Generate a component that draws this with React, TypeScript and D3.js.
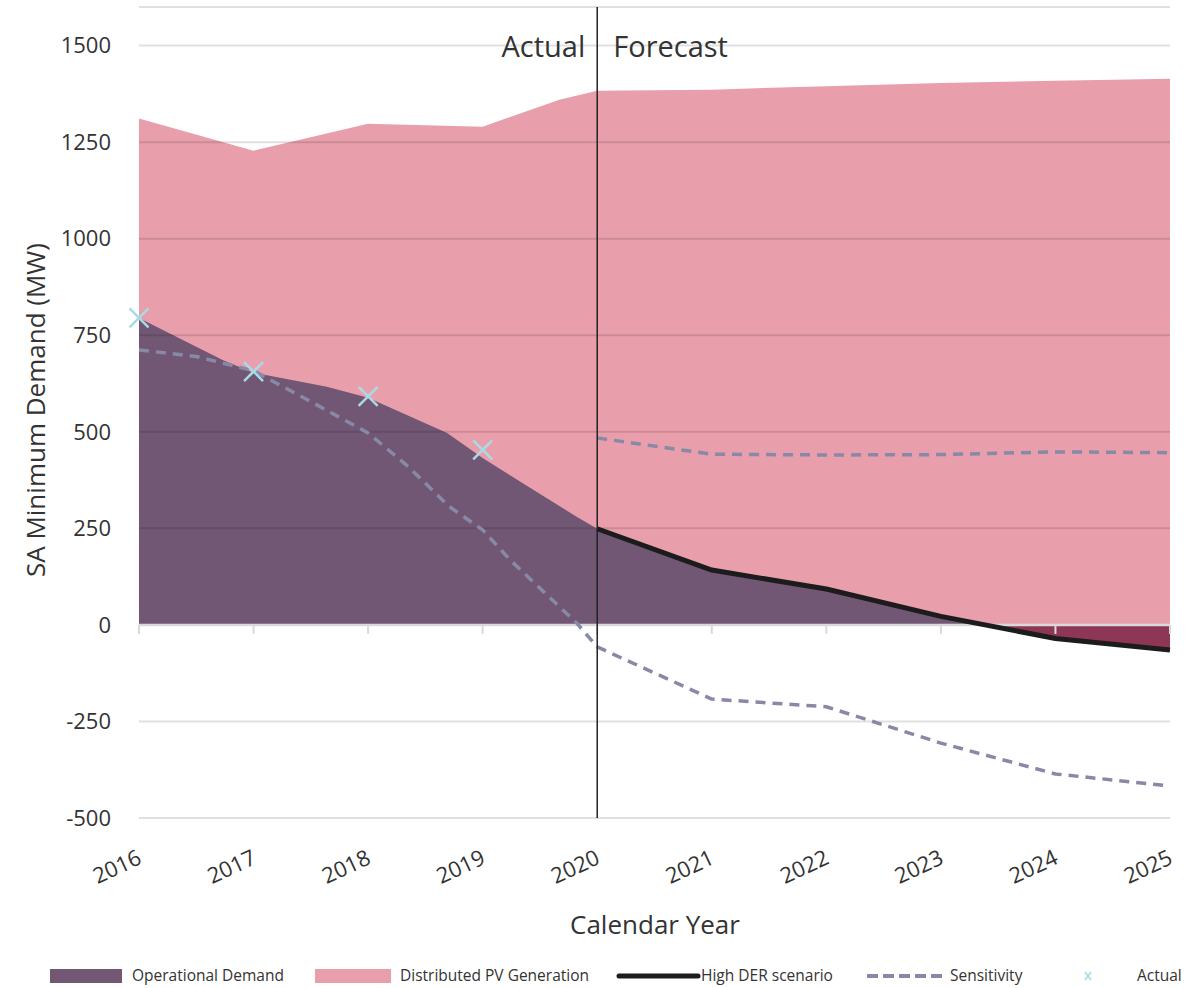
import React from "react";
import * as d3 from "d3";

// ---- Data ----
const demandYears = [2016, 2016.73, 2017, 2017.64, 2018, 2018.69, 2019, 2019.82, 2020];
const demandValues = [795, 686, 653, 617, 588, 497, 432, 280, 249];

const highDerYears = [2020, 2021, 2022, 2023, 2024, 2025];
const highDerValues = [249, 142, 93, 22, -35, -65];

// top of the stacked area (operational demand + distributed PV)
const pvTopYears = [2016, 2017, 2018, 2019, 2019.67, 2020, 2021, 2022, 2023, 2024, 2025];
const pvTopValues = [1311, 1228, 1298, 1290, 1360, 1383, 1386, 1395, 1403, 1409, 1414];

const sensLowYears = [2016, 2016.5, 2017, 2017.47, 2018, 2018.35, 2018.71, 2019, 2019.24, 2019.82, 2020, 2021, 2022, 2023, 2024, 2025];
const sensLowValues = [712, 695, 658, 583, 497, 410, 306, 246, 168, 5, -57, -192, -212, -306, -386, -417];

const sensHighYears = [2020, 2021, 2022, 2023, 2024, 2025];
const sensHighValues = [484, 442, 440, 441, 448, 446];

const actualYears = [2016, 2017, 2018, 2019];
const actualValues = [795, 656, 592, 453];

const tickYears = [2016, 2017, 2018, 2019, 2020, 2021, 2022, 2023, 2024, 2025];
const yTicks = [-500, -250, 0, 250, 500, 750, 1000, 1250, 1500];

const legendItems = ["Operational Demand", "Distributed PV Generation", "High DER scenario", "Sensitivity", "Actual"];

// ---- Styles ----
const C = {
  purple: "#725775",
  pink: "#e89fab",
  darkRed: "#8e3656",
  black: "#1c1c1c",
  dash: "#8789a6",
  cross: "#a9dbe6",
  grid: "rgba(0,0,0,0.12)",
  text: "#333333",
};
const FONT = "'Open Sans', 'Noto Sans', sans-serif";

export default function App() {
  const W = 1202;
  const H = 988;
  const x = d3.scaleLinear().domain([2016, 2025]).range([139, 1170]);
  const y = d3.scaleLinear().domain([-500, 1600]).range([818, 7]);

  type P = [number, number];
  const demandPts: P[] = [
    ...demandYears.map((yr, i) => [yr, demandValues[i]] as P),
    ...highDerYears.slice(1).map((yr, i) => [yr, highDerValues[i + 1]] as P),
  ];
  const pvPts: P[] = pvTopYears.map((yr, i) => [yr, pvTopValues[i]] as P);

  const areaPos = d3
    .area<P>()
    .x((d) => x(d[0]))
    .y0(y(0))
    .y1((d) => y(Math.max(0, d[1])));
  const areaNeg = d3
    .area<P>()
    .x((d) => x(d[0]))
    .y0(y(0))
    .y1((d) => y(Math.min(0, d[1])));

  const line = d3
    .line<P>()
    .x((d) => x(d[0]))
    .y((d) => y(d[1]));

  const highPts: P[] = highDerYears.map((yr, i) => [yr, highDerValues[i]] as P);
  const sensLowPts: P[] = sensLowYears.map((yr, i) => [yr, sensLowValues[i]] as P);
  const sensHighPts: P[] = sensHighYears.map((yr, i) => [yr, sensHighValues[i]] as P);

  // add zero-crossing point to demand for the negative fill
  const demandWithCross: P[] = [];
  demandPts.forEach((p, i) => {
    if (i > 0) {
      const q = demandPts[i - 1];
      if ((q[1] > 0 && p[1] < 0) || (q[1] < 0 && p[1] > 0)) {
        const t = q[1] / (q[1] - p[1]);
        demandWithCross.push([q[0] + t * (p[0] - q[0]), 0]);
      }
    }
    demandWithCross.push(p);
  });

  const crossSize = 9.5;
  const xr = x.range();

  const legendY = 976;
  const legX = [50, 315, 619, 867, 1088];
  const legTextX = [132, 400, 701, 950, 1137];

  return (
    <svg
      width={W}
      height={H}
      style={{ position: "absolute", left: 0, top: 0, background: "#fff" }}
      fontFamily={FONT}
    >
      <rect x={0} y={0} width={W} height={H} fill="#fff" />

      {/* areas */}
      <path d={areaPos(pvPts) || ""} fill={C.pink} />
      <path d={areaPos(demandWithCross) || ""} fill={C.purple} />
      <path d={areaNeg(demandWithCross) || ""} fill={C.darkRed} />

      {/* gridlines */}
      {[...yTicks.filter((v) => v !== 0), 1600].map((v) => (
        <line key={v} x1={xr[0]} x2={xr[1]} y1={y(v)} y2={y(v)} stroke={C.grid} strokeWidth={2} />
      ))}
      {/* zero axis with ticks */}
      <line x1={xr[0]} x2={xr[1]} y1={y(0)} y2={y(0)} stroke="#d9d9d9" strokeWidth={2.5} />
      {tickYears.map((t) => (
        <line key={t} x1={x(t)} x2={x(t)} y1={y(0)} y2={y(0) + 9} stroke="#d9d9d9" strokeWidth={2} />
      ))}

      {/* sensitivity lines */}
      <path d={line(sensLowPts) || ""} fill="none" stroke={C.dash} strokeWidth={3.5} strokeDasharray="10 7" strokeLinejoin="round" />
      <path d={line(sensHighPts) || ""} fill="none" stroke={C.dash} strokeWidth={3.5} strokeDasharray="10 7" strokeLinejoin="round" />

      {/* high DER line */}
      <path d={line(highPts) || ""} fill="none" stroke={C.black} strokeWidth={5} strokeLinejoin="round" />

      {/* actual markers */}
      {actualYears.map((yr, i) => {
        const cx = x(yr);
        const cy = y(actualValues[i]);
        return (
          <g key={yr} stroke={C.cross} strokeWidth={2.5}>
            <line x1={cx - crossSize} y1={cy - crossSize} x2={cx + crossSize} y2={cy + crossSize} />
            <line x1={cx - crossSize} y1={cy + crossSize} x2={cx + crossSize} y2={cy - crossSize} />
          </g>
        );
      })}

      {/* actual/forecast divider */}
      <line x1={x(2020)} x2={x(2020)} y1={y(1600)} y2={y(-500)} stroke="#222" strokeWidth={1.5} />
      <text x={x(2020) - 12} y={57} textAnchor="end" fontSize={29} fill={C.text}>
        Actual
      </text>
      <text x={x(2020) + 16} y={57} textAnchor="start" fontSize={29} fill={C.text}>
        Forecast
      </text>

      {/* y tick labels */}
      {yTicks.map((v) => (
        <text key={v} x={111} y={y(v)} dy="0.35em" textAnchor="end" fontSize={22} fill={C.text}>
          {v}
        </text>
      ))}

      {/* x tick labels */}
      {tickYears.map((t) => (
        <text
          key={t}
          transform={`translate(${x(t) + 4},${863}) rotate(-25)`}
          textAnchor="end"
          fontSize={22}
          fill={C.text}
        >
          {t}
        </text>
      ))}

      {/* axis titles */}
      <text
        transform={`translate(45,410) rotate(-90)`}
        textAnchor="middle"
        fontSize={26}
        fill={C.text}
      >
        SA Minimum Demand (MW)
      </text>
      <text x={655} y={934} textAnchor="middle" fontSize={26} fill={C.text}>
        Calendar Year
      </text>

      {/* legend */}
      <rect x={legX[0]} y={legendY - 7} width={72} height={14} fill={C.purple} />
      <rect x={legX[1]} y={legendY - 7} width={76} height={14} fill={C.pink} />
      <line x1={legX[2]} x2={legX[2] + 79} y1={legendY} y2={legendY} stroke={C.black} strokeWidth={5} strokeLinecap="round" />
      <line x1={legX[3]} x2={legX[3] + 78} y1={legendY} y2={legendY} stroke={C.dash} strokeWidth={4} strokeDasharray="11 5" />
      <g stroke={C.cross} strokeWidth={1.5}>
        <line x1={legX[4] - 3} y1={legendY - 4} x2={legX[4] + 3} y2={legendY + 4} />
        <line x1={legX[4] - 3} y1={legendY + 4} x2={legX[4] + 3} y2={legendY - 4} />
      </g>
      {legendItems.map((s, i) => (
        <text key={s} x={legTextX[i]} y={legendY} dy="0.35em" fontSize={15.5} fill={C.text}>
          {s}
        </text>
      ))}
    </svg>
  );
}
